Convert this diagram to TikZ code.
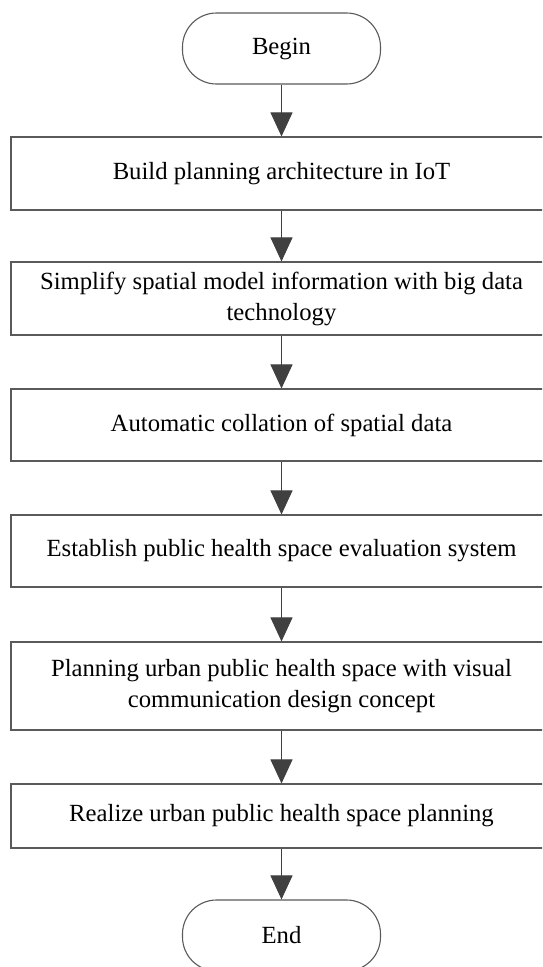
\documentclass[tikz,border=0pt]{standalone}
\usepackage{fontspec}
\setmainfont{Liberation Serif}
\usetikzlibrary{arrows.meta}
\definecolor{edgegray}{HTML}{5A5A5A}
\definecolor{arrowgray}{HTML}{404040}
\begin{document}
\begin{tikzpicture}[x=1pt,y=-1pt,
  every node/.style={font=\fontsize{24.7}{31}\selectfont, text=black, inner sep=0pt, align=center},
  stepbox/.style={draw=edgegray, line width=1.1pt, minimum width=541pt},
  termbox/.style={draw=edgegray, line width=1.1pt, rounded corners=34pt, minimum width=198pt, minimum height=71pt},
  flow/.style={draw=arrowgray, line width=1pt, -{Triangle[width=22pt,length=24pt]}, arrowgray}
]
\clip (0,0) rectangle (542,967);
\fill[white] (0,0) rectangle (542,967);
\node[termbox] (begin) at (281.5,48.5) {Begin};
\node[stepbox, minimum height=73pt] (b1) at (281.5,173.5) {Build planning architecture in IoT};
\node[stepbox, minimum height=73pt] (b2) at (281.5,298.5) {Simplify spatial model information with big data\\technology};
\node[stepbox, minimum height=72pt] (b3) at (281.5,425) {Automatic collation of spatial data};
\node[stepbox, minimum height=72pt] (b4) at (281.5,551) {Establish public health space evaluation system};
\node[stepbox, minimum height=88pt] (b5) at (281.5,686) {Planning urban public health space with visual\\communication design concept};
\node[stepbox, minimum height=64pt] (b6) at (281.5,816) {Realize urban public health space planning};
\node[termbox] (end) at (281.5,935.5) {End};
\draw[flow] (begin) -- (b1);
\draw[flow] (b1) -- (b2);
\draw[flow] (b2) -- (b3);
\draw[flow] (b3) -- (b4);
\draw[flow] (b4) -- (b5);
\draw[flow] (b5) -- (b6);
\draw[flow] (b6) -- (end);
\end{tikzpicture}
\end{document}
